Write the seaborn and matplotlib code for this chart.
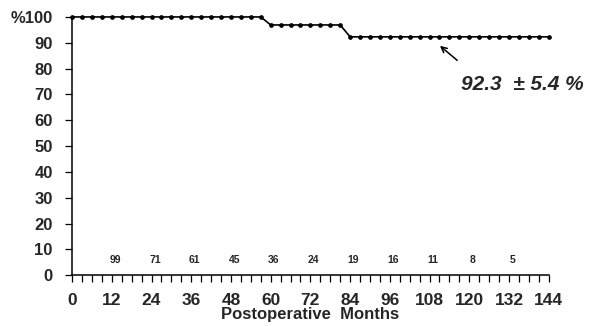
import seaborn as sns
import pandas as pd
import matplotlib.pyplot as plt
from matplotlib.ticker import MultipleLocator

# survival curve, one point every 3 months
months = list(range(0, 145, 3))
survival = [100.0] * 20 + [96.9] * 8 + [92.3] * 21

# patients at risk
risk_months = [12, 24, 36, 48, 60, 72, 84, 96, 108, 120, 132]
at_risk = [99, 71, 61, 45, 36, 24, 19, 16, 11, 8, 5]

x_ticks = [0, 12, 24, 36, 48, 60, 72, 84, 96, 108, 120, 132, 144]
y_ticks = [0, 10, 20, 30, 40, 50, 60, 70, 80, 90, 100]
y_labels = ['0', '10', '20', '30', '40', '50', '60', '70', '80', '90', '%100']

sns.set_style('ticks')
plt.rcParams['font.family'] = ['Liberation Sans', 'DejaVu Sans']

df = pd.DataFrame({'month': months, 'survival': survival})

fig = plt.figure(figsize=(6.01, 3.26), dpi=100)
ax = fig.add_axes([0.12, 0.156, 0.793, 0.792])
sns.lineplot(data=df, x='month', y='survival', ax=ax, color='black',
             linewidth=1.2, marker='o', markersize=3.4, markeredgewidth=0,
             clip_on=False)

for m, n in zip(risk_months, at_risk):
    ax.text(m + 1, 5.8, str(n), ha='center', va='center', fontsize=7.5,
            fontweight='bold')

ax.annotate('', xy=(110.5, 89.5), xytext=(117, 82.5),
            arrowprops=dict(arrowstyle='->', color='black', lw=1.1))
ax.text(136, 74, '92.3  ± 5.4 %', ha='center', va='center', fontsize=15,
        fontweight='heavy', style='italic')

ax.set_xlim(0, 144)
ax.set_ylim(0, 100)
ax.set_xticks(x_ticks)
ax.set_xticklabels([str(t) for t in x_ticks], fontsize=12.5, fontweight='bold')
ax.xaxis.set_minor_locator(MultipleLocator(3))
ax.set_yticks(y_ticks)
ax.set_yticklabels(y_labels, fontsize=12, fontweight='bold')
ax.tick_params(axis='both', which='both', direction='out', length=5,
               width=0.9, color='black')
ax.tick_params(axis='x', which='major', pad=8)
ax.tick_params(axis='y', which='major', pad=9)
ax.set_xlabel('Postoperative  Months', fontsize=12, fontweight='bold',
              labelpad=-1)
ax.set_ylabel('')
sns.despine(ax=ax)
for s in ['left', 'bottom']:
    ax.spines[s].set_linewidth(1.1)
    ax.spines[s].set_color('black')

fig.savefig('out.png', dpi=100)
